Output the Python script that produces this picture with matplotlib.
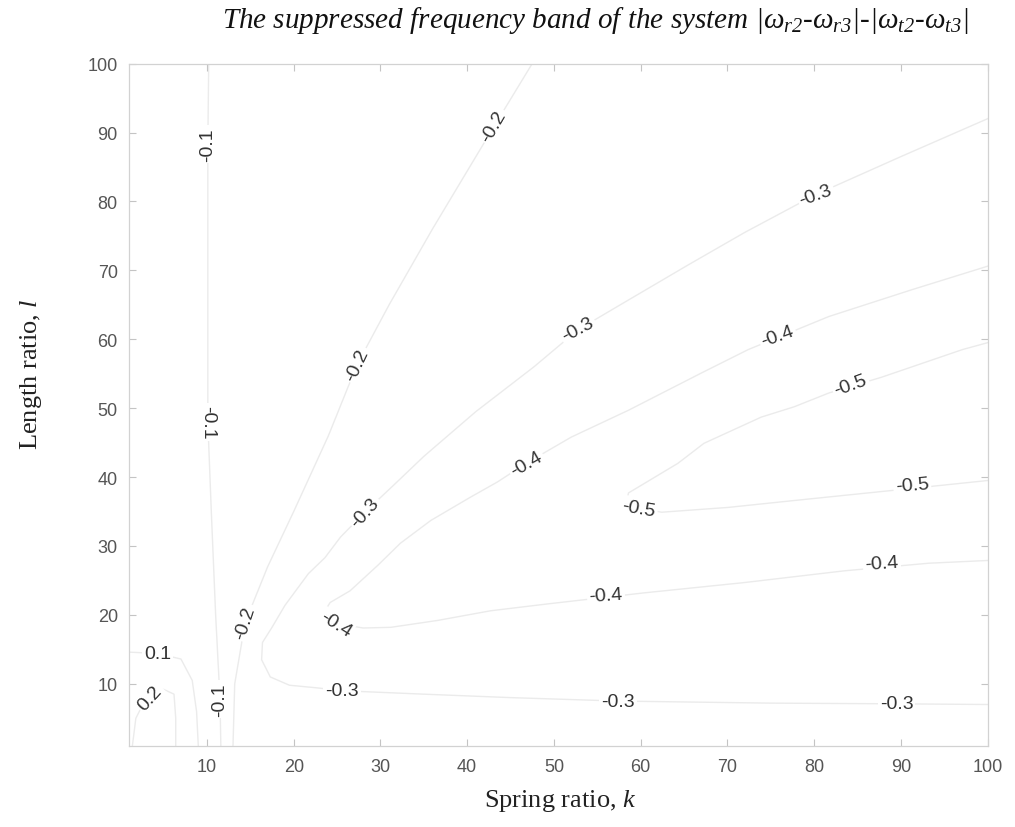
import numpy as np
import matplotlib
matplotlib.use('Agg')
import matplotlib.pyplot as plt

plt.rcParams['mathtext.fontset'] = 'custom'
plt.rcParams['mathtext.it'] = 'Liberation Serif:italic'
plt.rcParams['mathtext.rm'] = 'Liberation Serif:italic'

# contour lines (k = spring ratio, l = length ratio)
k_m05 = [100, 89.3, 77.7, 70.1, 62.4, 58.3, 58.6, 64.3, 67.3, 73.9, 77.7, 81.7, 87.8, 97.1, 100]
l_m05 = [39.5, 38.1, 36.6, 35.6, 34.9, 36.0, 37.7, 42.0, 44.9, 48.7, 50.2, 52.2, 54.5, 58.5, 59.5]

k_m04 = [100, 93.2, 83.5, 72.0, 60.4, 49.3, 42.7, 36.6, 31.2, 28, 24.8, 23.4, 24.2, 26.5,
         29.7, 32.3, 35.8, 40.4, 43.5, 46.8, 52.0, 58.6, 67.0, 72.4, 81.7, 91.3, 100]
l_m04 = [27.9, 27.5, 26.4, 24.7, 23.2, 21.6, 20.6, 19.2, 18.2, 18.1, 18.8, 20.2, 21.8, 23.5,
         27.2, 30.4, 33.7, 37.1, 39.3, 42.0, 45.8, 49.7, 55.1, 58.5, 63.3, 67.2, 70.6]

k_m03 = [100, 89.5, 75, 57.4, 45, 35, 25.6, 22.8, 19.5, 17.3, 16.3, 16.4, 17.5, 19, 21.7,
         23.6, 25.4, 28.2, 31.5, 35, 41, 47.7, 52.8, 58.6, 65.5, 72, 80.2, 90, 100]
l_m03 = [7.0, 7.1, 7.2, 7.5, 8.0, 8.5, 9.0, 9.4, 9.8, 11, 13.5, 16, 18.2, 21.4, 26,
         28.3, 31.3, 34.9, 38.8, 43, 49.5, 56, 61.4, 65.7, 70.8, 75.5, 81.0, 86.5, 92]

k_m02 = [13.0, 13.2, 14.4, 17, 20, 24, 27.3, 31, 36, 43.1, 47.5]
l_m02 = [1, 10, 18.9, 27, 35, 46, 56.3, 65, 76, 90.9, 100]

k_m01 = [11.6, 11.5, 11.0, 10.5, 10.1, 10.1, 10.1, 10.1, 10.2]
l_m01 = [1, 7.8, 20, 35, 48, 65, 80, 88.3, 100]

k_p01 = [1, 4.3, 7, 8.3, 8.8, 9.0]
l_p01 = [14.6, 14.4, 13.6, 10.5, 6, 1]

k_p02 = [1.4, 1.8, 2.6, 3.4, 5, 6.2, 6.4, 6.4]
l_p02 = [1, 5, 7.0, 8.0, 9.2, 8.5, 5, 1]

linee = [(k_m05, l_m05), (k_m04, l_m04), (k_m03, l_m03), (k_m02, l_m02),
         (k_m01, l_m01), (k_p01, l_p01), (k_p02, l_p02)]

# contour labels: text, k, l, rotation
etichette = ['-0.1', '-0.2', '-0.3', '-0.2', '-0.3', '-0.4', '-0.5', '-0.1', '-0.4', '-0.5', '-0.5',
             '-0.3', '-0.4', '-0.4', '-0.2', '-0.4', '0.1', '-0.3', '0.2', '-0.1', '-0.3', '-0.3']
etich_k = [10.1, 43.1, 80.2, 27.3, 52.8, 75.8, 84.2, 10.1, 46.8, 91.3, 59.8,
           28.2, 87.8, 56.0, 14.4, 24.8, 4.3, 25.6, 3.4, 11.5, 57.4, 89.5]
etich_l = [88.3, 90.9, 81.0, 56.3, 61.4, 60.4, 53.4, 48.0, 42.0, 38.8, 35.5,
           34.9, 27.5, 22.8, 18.9, 18.7, 14.4, 9.0, 8.0, 7.8, 7.5, 7.1]
etich_rot = [90, 60, 20, 65, 28, 20, 20, 270, 30, 5, -10,
             48, 4, 4, 72, -32, 0, 0, 48, 90, 0, 0]

fig = plt.figure(figsize=(10.15, 8.28), dpi=100)
ax = fig.add_axes([0.127, 0.098, 0.846, 0.824])

for kk, ll in linee:
	ax.plot(kk, ll, color='#ebebeb', lw=1.0, zorder=1)

for i in range(len(etichette)):
	ax.text(etich_k[i], etich_l[i], etichette[i], rotation=etich_rot[i], rotation_mode='anchor',
	        ha='center', va='center', fontsize=14, color='#333333', family='Liberation Sans',
	        bbox=dict(facecolor='white', edgecolor='none', pad=1.5), zorder=3)

ax.set_xlim(1, 100)
ax.set_ylim(1, 100)
ax.set_xticks(np.arange(10, 101, 10))
ax.set_yticks(np.arange(10, 101, 10))
ax.tick_params(direction='in', length=5, width=0.8, color='#c4c4c4', top=True, right=True,
               labelsize=13, labelcolor='#555555')
ax.tick_params(axis='x', pad=9)
ax.tick_params(axis='y', pad=8)
for lab in ax.get_xticklabels() + ax.get_yticklabels():
	lab.set_family('Liberation Sans')
for s in ax.spines.values():
	s.set_color('#d2d2d2')
	s.set_linewidth(0.9)

fig.text(0.586, 0.975, r'The suppressed frequency band of the system $|\omega_{r2}$-$\omega_{r3}|$-$|\omega_{t2}$-$\omega_{t3}|$',
         ha='center', va='center', fontsize=21, style='italic', family='Liberation Serif', color='#111111')
fig.text(0.552, 0.033, r'Spring ratio, $k$', ha='center', va='center', fontsize=19,
         family='Liberation Serif', color='#222222')
fig.text(0.031, 0.548, r'Length ratio, $l$', ha='center', va='center', fontsize=19, rotation=90,
         family='Liberation Serif', color='#222222')

plt.savefig('out.png', dpi=100)
